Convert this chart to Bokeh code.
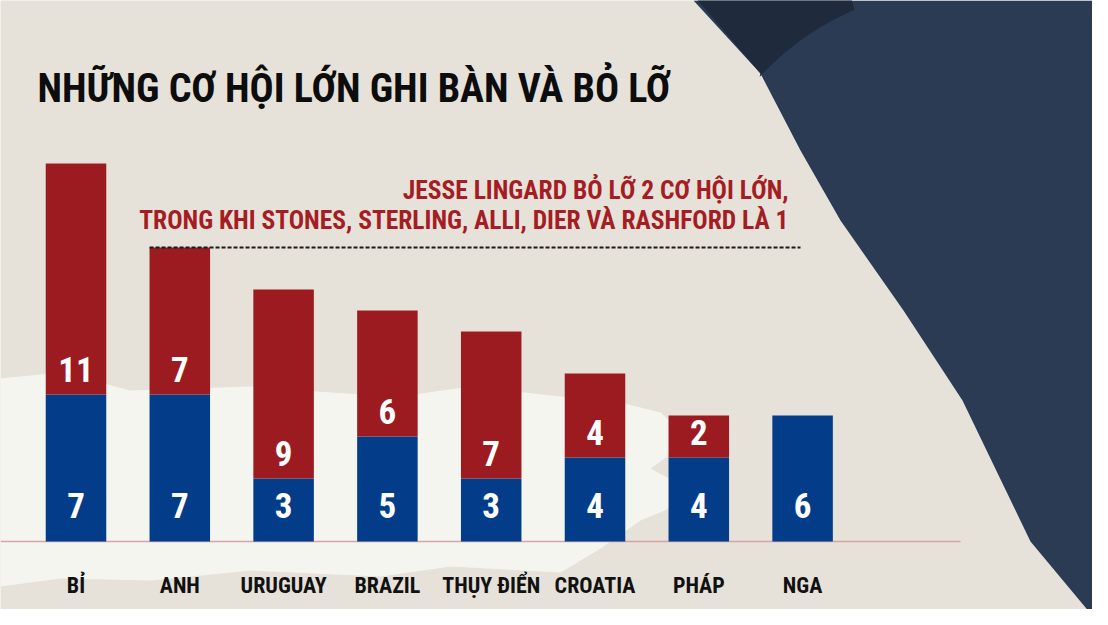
import numpy as np
from bokeh.plotting import figure
from bokeh.models import Range1d, ColumnDataSource, Label
from bokeh.core.properties import value
from bokeh.embed import file_html
from bokeh.resources import INLINE

# ---- data ----
teams = ["BỈ", "ANH", "URUGUAY", "BRAZIL", "THỤY ĐIỂN", "CROATIA", "PHÁP", "NGA"]
scored = [7, 7, 3, 5, 3, 4, 4, 6]
missed = [11, 7, 9, 6, 7, 4, 2, 0]
title_text = "NHỮNG CƠ HỘI LỚN GHI BÀN VÀ BỎ LỠ"
note_lines = ["JESSE LINGARD BỎ LỠ 2 CƠ HỘI LỚN,",
              "TRONG KHI STONES, STERLING, ALLI, DIER VÀ RASHFORD LÀ 1"]

FONT = "Roboto Condensed"
W, H = 1092, 609
PXU, PYU = 103.8, 21.0
X0 = -75.5 / PXU
Y0 = -(H - 541) / PYU

def dx(X):
    return X0 + np.asarray(X, dtype=float) / PXU

def dy(Y):
    return Y0 + (H - np.asarray(Y, dtype=float)) / PYU

BG = "#e6e2d9"
p = figure(width=W, height=H, output_backend="svg", toolbar_location=None,
           x_range=Range1d(X0, X0 + W / PXU), y_range=Range1d(Y0, Y0 + H / PYU),
           min_border=0, border_fill_color=BG, background_fill_color=BG)
p.axis.visible = False
p.grid.visible = False
p.outline_line_color = None

# ---- decorative background: white brush stroke ----
brush = [(0, 378), (60, 372), (130, 390), (250, 386), (330, 392), (400, 396), (470, 386),
         (560, 396), (620, 402), (660, 412), (690, 440), (650, 468), (700, 495), (640, 520),
         (600, 548), (560, 572), (450, 566), (380, 576), (250, 570), (150, 580), (60, 578), (0, 586)]
bx, by = zip(*brush)
p.patch(dx(bx), dy(by), fill_color="#f6f5f1", fill_alpha=0.95, line_color=None)

# ---- navy shape top right ----
edge = [(693, 0), (760, 73), (800, 150), (840, 220), (903, 310), (962, 400), (1030, 541), (1100, 625)]
nav = edge + [(1120, 625), (1120, 0)]
nx, ny = zip(*nav)
p.patch(dx(nx), dy(ny), fill_color="#2c3b54", line_color=None)

cx, cy, r = 960.0, 260.0, 272.0
a0 = np.arctan2(0 - cy, 850 - cx)
a1 = np.arctan2(82 - cy, 765 - cx)
angs = np.linspace(a0, a1, 30)
arc_x = cx + r * np.cos(angs)
arc_y = cy + r * np.sin(angs)
dark_x = [693, 850] + list(arc_x) + [760]
dark_y = [-5, -5] + list(arc_y) + [73]
p.patch(dx(dark_x), dy(dark_y), fill_color="#1f2a3d", line_color=None)

# ---- baseline ----
p.segment(x0=[dx(0)], y0=[0], x1=[dx(960)], y1=[0], line_color="#d7a3a6", line_width=1.5)

# ---- bars ----
idx = np.arange(len(teams))
tot = [s + m for s, m in zip(scored, missed)]
src = ColumnDataSource(dict(x=idx, s=scored, t=tot, team=teams,
                            sl=[str(v) for v in scored], ml=[str(v) if v else "" for v in missed],
                            sy=[1.7] * len(teams), my=[s + 1.2 for s in scored],
                            ty=[-2.1] * len(teams)))
BW = 0.583
p.vbar(x="x", bottom=0, top="s", width=BW, fill_color="#033d8a", line_color=None, source=src)
p.vbar(x="x", bottom="s", top="t", width=BW, fill_color="#9c1b20", line_color=None, source=src)

p.text(x="x", y="sy", text="sl", source=src, text_color="white", text_font=value(FONT),
       text_font_style="bold", text_font_size="35px", text_align="center", text_baseline="middle")
p.text(x="x", y="my", text="ml", source=src, text_color="white", text_font=value(FONT),
       text_font_style="bold", text_font_size="35px", text_align="center", text_baseline="middle")
p.text(x="x", y="ty", text="team", source=src, text_color="#111111", text_font=value(FONT),
       text_font_style="bold", text_font_size="22px", text_align="center", text_baseline="middle")

# ---- dashed reference line at England's total ----
p.segment(x0=[1 - BW / 2], y0=[tot[1]], x1=[dx(800)], y1=[tot[1]],
          line_color="#1a1a1a", line_width=2, line_dash="4 2")

# ---- annotation ----
p.text(x=[dx(788)] * 2, y=[dy(189), dy(219)], text=note_lines, text_color="#a51d24",
       text_font=value(FONT), text_font_style="bold", text_font_size="25.5px",
       text_align="right", text_baseline="alphabetic")

# ---- title ----
p.add_layout(Label(x=37, y=H - 88, x_units="screen", y_units="screen", text=title_text,
                   text_font=FONT, text_font_style="bold", text_font_size="40px",
                   text_color="#0d0d0d", text_baseline="alphabetic"))

open("out.html", "w").write(file_html(p, INLINE))
